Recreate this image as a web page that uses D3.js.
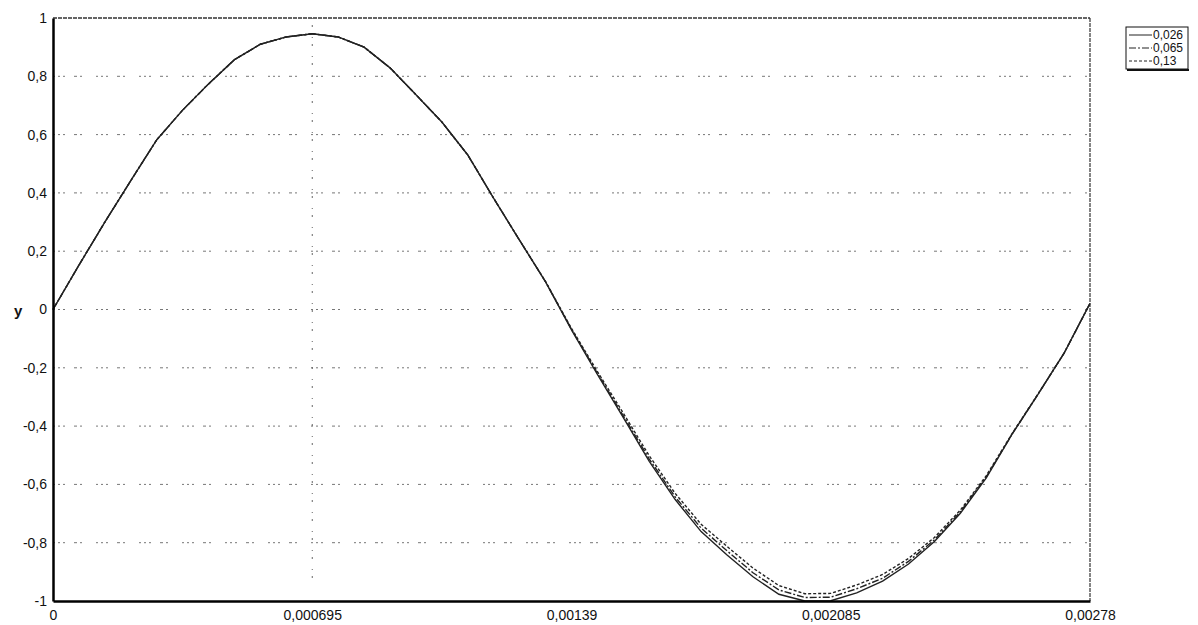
<!DOCTYPE html>
<html>
<head>
<meta charset="utf-8">
<script src="https://cdn.jsdelivr.net/npm/d3@7"></script>
<style>
  body { margin: 0; background: #fff; }
  text { font-family: "Liberation Sans", Arial, sans-serif; fill: #111; }
</style>
</head>
<body>
<div class="svg-container"></div>
<script>
//Data
const seriesNames = ['0,026', '0,065', '0,13'];

const timeSteps = [
    0, 0.0000695, 0.000139, 0.0002085, 0.000278, 0.0003475, 0.000417, 0.0004865, 0.000556, 0.0006255,
    0.000695, 0.0007645, 0.000834, 0.0009035, 0.000973, 0.0010425, 0.001112, 0.0011815, 0.001251, 0.0013205,
    0.00139, 0.0014595, 0.001529, 0.0015985, 0.001668, 0.0017375, 0.001807, 0.0018765, 0.001946, 0.0020155,
    0.002085, 0.0021545, 0.002224, 0.0022935, 0.002363, 0.0024325, 0.002502, 0.0025715, 0.002641, 0.0027105,
    0.00278
];

const values026 = [
    0, 0.152, 0.300, 0.442, 0.582, 0.684, 0.774, 0.857, 0.910, 0.935,
    0.946, 0.935, 0.900, 0.829, 0.737, 0.643, 0.530, 0.381, 0.237, 0.095,
    -0.070, -0.223, -0.371, -0.521, -0.652, -0.762, -0.842, -0.917, -0.977, -1.000,
    -0.999, -0.972, -0.932, -0.873, -0.796, -0.699, -0.578, -0.427, -0.290, -0.150,
    0.021
];

const values065 = [
    0, 0.152, 0.300, 0.442, 0.582, 0.684, 0.774, 0.857, 0.910, 0.935,
    0.946, 0.935, 0.900, 0.829, 0.737, 0.643, 0.530, 0.381, 0.237, 0.095,
    -0.068, -0.219, -0.365, -0.513, -0.643, -0.750, -0.828, -0.903, -0.962, -0.988,
    -0.987, -0.958, -0.922, -0.864, -0.790, -0.694, -0.574, -0.427, -0.290, -0.150,
    0.021
];

const values13 = [
    0, 0.152, 0.300, 0.442, 0.582, 0.684, 0.774, 0.857, 0.910, 0.935,
    0.946, 0.935, 0.900, 0.829, 0.737, 0.643, 0.530, 0.381, 0.237, 0.096,
    -0.065, -0.213, -0.356, -0.502, -0.631, -0.737, -0.813, -0.887, -0.947, -0.975,
    -0.974, -0.945, -0.909, -0.854, -0.782, -0.688, -0.570, -0.425, -0.289, -0.150,
    0.021
];

const xTicks = [0, 0.000695, 0.00139, 0.002085, 0.00278];
const yTicks = [1, 0.8, 0.6, 0.4, 0.2, 0, -0.2, -0.4, -0.6, -0.8, -1];
const gridY = [0.8, 0.6, 0.4, 0.2, 0, -0.2, -0.4, -0.6, -0.8];
const gridX = [0.000695];

//comma decimals like the original
const fmt = d => String(d).replace('.', ',');

const margin = {top: 18, right: 108, bottom: 24, left: 53};
const width = 1198 - margin.left - margin.right;
const height = 625 - margin.top - margin.bottom;

const xScale = d3.scaleLinear().domain([0, 0.00278]).range([0, width]);
const yScale = d3.scaleLinear().domain([-1, 1]).range([height, 0]);

const svg = d3.select('.svg-container')
    .append('svg')
    .attr('width', 1198)
    .attr('height', 625)
    .append('g')
    .attr('transform', `translate(${margin.left}, ${margin.top})`);

//grid lines (dotted)
svg.append('g')
    .attr('class', 'grid-y')
    .selectAll('line')
    .data(gridY)
    .enter()
    .append('line')
    .attr('x1', 0)
    .attr('x2', width)
    .attr('y1', d => yScale(d))
    .attr('y2', d => yScale(d))
    .attr('stroke', '#777')
    .attr('stroke-width', 1)
    .attr('stroke-dasharray', '2,3,2,3,2,9,3,3,2,14');

svg.append('g')
    .attr('class', 'grid-x')
    .selectAll('line')
    .data(gridX)
    .enter()
    .append('line')
    .attr('x1', d => xScale(d))
    .attr('x2', d => xScale(d))
    .attr('y1', 0)
    .attr('y2', height - 20)
    .attr('stroke', '#666')
    .attr('stroke-width', 1)
    .attr('stroke-dasharray', '1,6,2,10');

//top and right border (dashed)
svg.append('line')
    .attr('x1', 0).attr('x2', width)
    .attr('y1', yScale(1)).attr('y2', yScale(1))
    .attr('stroke', '#333').attr('stroke-width', 1.5)
    .attr('stroke-dasharray', '4,1');
svg.append('line')
    .attr('x1', xScale(0.00278)).attr('x2', xScale(0.00278))
    .attr('y1', 0).attr('y2', height)
    .attr('stroke', '#333').attr('stroke-width', 1.2)
    .attr('stroke-dasharray', '4,1');

//lines
const series = [
    {name: seriesNames[0], values: values026, dash: null},
    {name: seriesNames[1], values: values065, dash: '7,2,2,2'},
    {name: seriesNames[2], values: values13, dash: '3,2'}
];

const line = d3.line()
    .x((d, i) => xScale(timeSteps[i]))
    .y(d => yScale(d));

svg.append('g')
    .attr('class', 'lines')
    .selectAll('path')
    .data(series)
    .enter()
    .append('path')
    .attr('d', d => line(d.values))
    .attr('fill', 'none')
    .attr('stroke', '#222')
    .attr('stroke-width', 1.4)
    .attr('stroke-dasharray', d => d.dash);

//axes
const yAxis = d3.axisLeft(yScale).tickValues(yTicks).tickSize(0).tickPadding(6).tickFormat(fmt);
const yAxisDraw = svg.append('g').attr('class', 'y axis').call(yAxis);

const xAxis = d3.axisBottom(xScale).tickValues(xTicks).tickSize(0).tickPadding(9).tickFormat(fmt);
const xAxisDraw = svg.append('g')
    .attr('class', 'x axis')
    .attr('transform', `translate(0, ${height})`)
    .call(xAxis);

[yAxisDraw, xAxisDraw].forEach(a => {
    a.select('.domain').attr('stroke', '#000').attr('stroke-width', 2.5);
    a.selectAll('text').style('font-size', '14px').attr('fill', '#111');
});

//y label
svg.append('text')
    .attr('x', -39)
    .attr('y', yScale(0) + 6)
    .style('font-size', '15px')
    .style('font-weight', 'bold')
    .text('y');

//legend
const legend = svg.append('g')
    .attr('class', 'legend')
    .attr('transform', `translate(${1126 - margin.left}, ${27 - margin.top})`);

legend.append('rect')
    .attr('width', 62)
    .attr('height', 42)
    .attr('fill', '#fff')
    .attr('stroke', '#111')
    .attr('stroke-width', 1);
legend.append('line')
    .attr('x1', 1).attr('x2', 63)
    .attr('y1', 43).attr('y2', 43)
    .attr('stroke', '#111').attr('stroke-width', 2);

const legendItem = legend.selectAll('.legend-item')
    .data(series)
    .enter()
    .append('g')
    .attr('class', 'legend-item')
    .attr('transform', (d, i) => `translate(0, ${8 + i * 13})`);

legendItem.append('line')
    .attr('x1', 3).attr('x2', 26)
    .attr('y1', 0).attr('y2', 0)
    .attr('stroke', '#222')
    .attr('stroke-width', 1)
    .attr('stroke-dasharray', d => d.dash);

legendItem.append('text')
    .attr('x', 27)
    .attr('y', 4)
    .style('font-size', '12px')
    .text(d => d.name);
</script>
</body>
</html>
